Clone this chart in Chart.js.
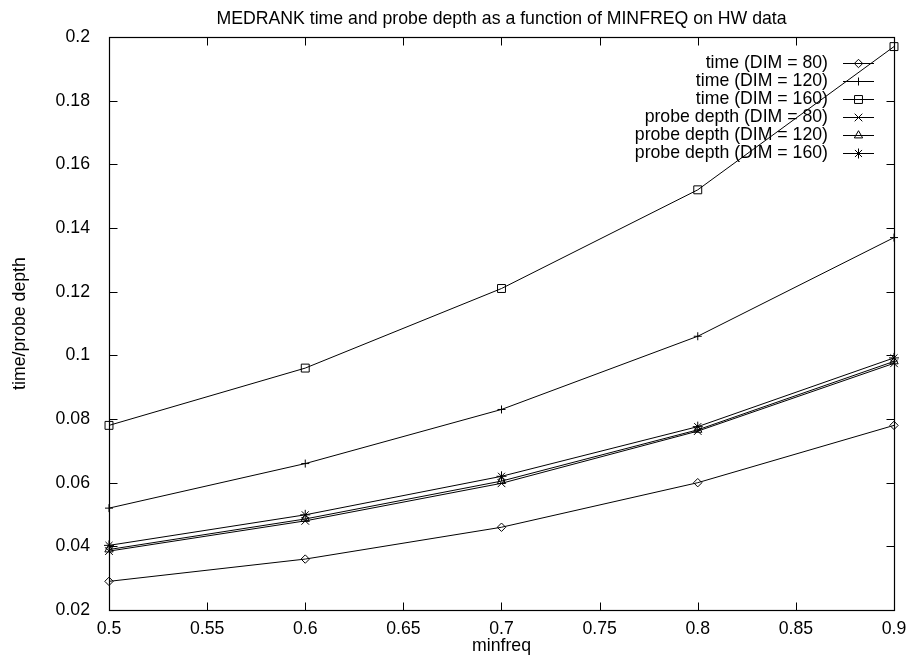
<!DOCTYPE html>
<html>
<head>
<meta charset="utf-8">
<script src="https://cdn.jsdelivr.net/npm/chart.js@4.4.0/dist/chart.umd.min.js"></script>
<style>
html,body{margin:0;padding:0;background:#fff;}
#wrap{width:909px;height:658px;}
</style>
</head>
<body>
<div id="wrap"><canvas id="c" width="909" height="658"></canvas></div>
<script>
// ---- data ----
const minfreq = [0.5, 0.6, 0.7, 0.8, 0.9];
const time80 = [0.029, 0.036, 0.046, 0.060, 0.078];
const time120 = [0.052, 0.066, 0.083, 0.106, 0.137];
const time160 = [0.078, 0.096, 0.121, 0.152, 0.197];
const probe80 = [0.0385, 0.048, 0.0598, 0.0762, 0.0975];
const probe120 = [0.039, 0.0486, 0.0605, 0.0766, 0.0981];
const probe160 = [0.0403, 0.0499, 0.062, 0.0776, 0.0992];
const seriesLabels = ['time (DIM = 80)', 'time (DIM = 120)', 'time (DIM = 160)',
  'probe depth (DIM = 80)', 'probe depth (DIM = 120)', 'probe depth (DIM = 160)'];
const xTickValues = [0.5, 0.55, 0.6, 0.65, 0.7, 0.75, 0.8, 0.85, 0.9];
const xTickLabels = ['0.5', '0.55', '0.6', '0.65', '0.7', '0.75', '0.8', '0.85', '0.9'];
const yTickValues = [0.02, 0.04, 0.06, 0.08, 0.1, 0.12, 0.14, 0.16, 0.18, 0.2];
const yTickLabels = ['0.02', '0.04', '0.06', '0.08', '0.1', '0.12', '0.14', '0.16', '0.18', '0.2'];
const titleText = 'MEDRANK time and probe depth as a function of MINFREQ on HW data';
const xTitle = 'minfreq';
const yTitle = 'time/probe depth';

// ---- styles ----
const FONT = '"Liberation Sans", Arial, Helvetica, sans-serif';
const FSIZE = 17.7;
const series = [time80, time120, time160, probe80, probe120, probe160];
const styles = [
  {pointStyle: 'rectRot', pointRadius: 4.2},
  {pointStyle: 'cross', pointRadius: 4},
  {pointStyle: 'rect', pointRadius: 5.6},
  {pointStyle: 'crossRot', pointRadius: 5.4},
  {pointStyle: 'triangle', pointRadius: 4.8},
  {pointStyle: 'star', pointRadius: 5}
];

const datasets = series.map((arr, i) => ({
  label: seriesLabels[i],
  data: minfreq.map((x, j) => ({x: x, y: arr[j]})),
  showLine: true,
  borderColor: '#000',
  borderWidth: 1,
  pointStyle: styles[i].pointStyle,
  pointRadius: styles[i].pointRadius,
  pointBorderWidth: 1,
  pointBorderColor: '#000',
  pointBackgroundColor: 'rgba(0,0,0,0)',
  fill: false,
  tension: 0,
  clip: false
}));

const frameAndTicks = {
  id: 'frameAndTicks',
  beforeDatasetsDraw(chart) {
    const {ctx, chartArea: a, scales: {x, y}} = chart;
    const L = Math.round(a.left) + 0.5, R = Math.round(a.right) + 0.5;
    const T = Math.round(a.top) + 0.5, B = Math.round(a.bottom) + 0.5;
    ctx.save();
    ctx.strokeStyle = '#000';
    ctx.lineWidth = 1;
    ctx.beginPath();
    const tl = 8;
    xTickValues.forEach(v => {
      const px = Math.round(x.getPixelForValue(v)) + 0.5;
      ctx.moveTo(px, B); ctx.lineTo(px, B - tl);
      ctx.moveTo(px, T); ctx.lineTo(px, T + tl);
    });
    yTickValues.forEach(v => {
      const py = Math.round(y.getPixelForValue(v)) + 0.5;
      ctx.moveTo(L, py); ctx.lineTo(L + tl, py);
      ctx.moveTo(R, py); ctx.lineTo(R - tl, py);
    });
    ctx.stroke();
    ctx.lineWidth = 1.2;
    ctx.strokeRect(L, T, R - L, B - T);
    ctx.restore();
  }
};

const gnuKey = {
  id: 'gnuKey',
  afterDatasetsDraw(chart) {
    const {ctx, chartArea: a} = chart;
    const textRight = a.right - 66;
    const lineL = a.right - 51, lineR = a.right - 20;
    const top = a.top + 26;
    const step = 18;
    ctx.save();
    ctx.font = FSIZE + 'px ' + FONT;
    ctx.textAlign = 'right';
    ctx.textBaseline = 'middle';
    chart.data.datasets.forEach((ds, i) => {
      const yy = Math.round(top + step * i) + 0.5;
      ctx.fillStyle = '#000';
      ctx.fillText(ds.label, textRight, yy);
      ctx.strokeStyle = '#000';
      ctx.lineWidth = 1;
      ctx.beginPath();
      ctx.moveTo(lineL, yy);
      ctx.lineTo(lineR, yy);
      ctx.stroke();
      ctx.fillStyle = 'rgba(0,0,0,0)';
      ctx.strokeStyle = '#000';
      Chart.helpers.drawPoint(ctx, {
        pointStyle: ds.pointStyle, radius: ds.pointRadius, rotation: 0, borderWidth: 1
      }, (lineL + lineR) / 2, yy);
    });
    ctx.restore();
  }
};

new Chart(document.getElementById('c'), {
  type: 'scatter',
  data: {datasets: datasets},
  plugins: [frameAndTicks, gnuKey],
  options: {
    responsive: false,
    devicePixelRatio: 1,
    animation: false,
    events: [],
    layout: {padding: {left: 0, right: 15, top: 0, bottom: 0}},
    plugins: {
      legend: {display: false},
      tooltip: {enabled: false},
      title: {
        display: true,
        fullSize: false,
        text: titleText,
        color: '#000',
        font: {family: FONT, size: FSIZE, weight: 'normal', lineHeight: 1.2},
        padding: {top: 8.4, bottom: 7.4}
      }
    },
    scales: {
      x: {
        type: 'linear',
        position: 'bottom',
        min: 0.5, max: 0.9,
        afterBuildTicks(s) { s.ticks = xTickValues.map(v => ({value: v})); },
        afterFit(s) { s.height = 48; },
        grid: {display: false},
        border: {display: false},
        ticks: {
          color: '#000',
          font: {family: FONT, size: FSIZE},
          padding: 0,
          maxRotation: 0,
          autoSkip: false,
          callback: (v, i) => xTickLabels[i]
        },
        title: {
          display: true,
          text: xTitle,
          color: '#000',
          font: {family: FONT, size: FSIZE, lineHeight: 1.2},
          padding: {top: 0, bottom: 1}
        }
      },
      y: {
        type: 'linear',
        position: 'left',
        min: 0.02, max: 0.2,
        afterBuildTicks(s) { s.ticks = yTickValues.map(v => ({value: v})); },
        afterFit(s) { s.width = 109; },
        grid: {display: false},
        border: {display: false},
        ticks: {
          color: '#000',
          font: {family: FONT, size: FSIZE},
          padding: 11,
          autoSkip: false,
          callback: (v, i) => yTickLabels[i]
        },
        title: {
          display: true,
          text: yTitle,
          color: '#000',
          font: {family: FONT, size: FSIZE, lineHeight: 1.2},
          padding: {top: 9.5, bottom: 0}
        }
      }
    }
  }
});
</script>
</body>
</html>
